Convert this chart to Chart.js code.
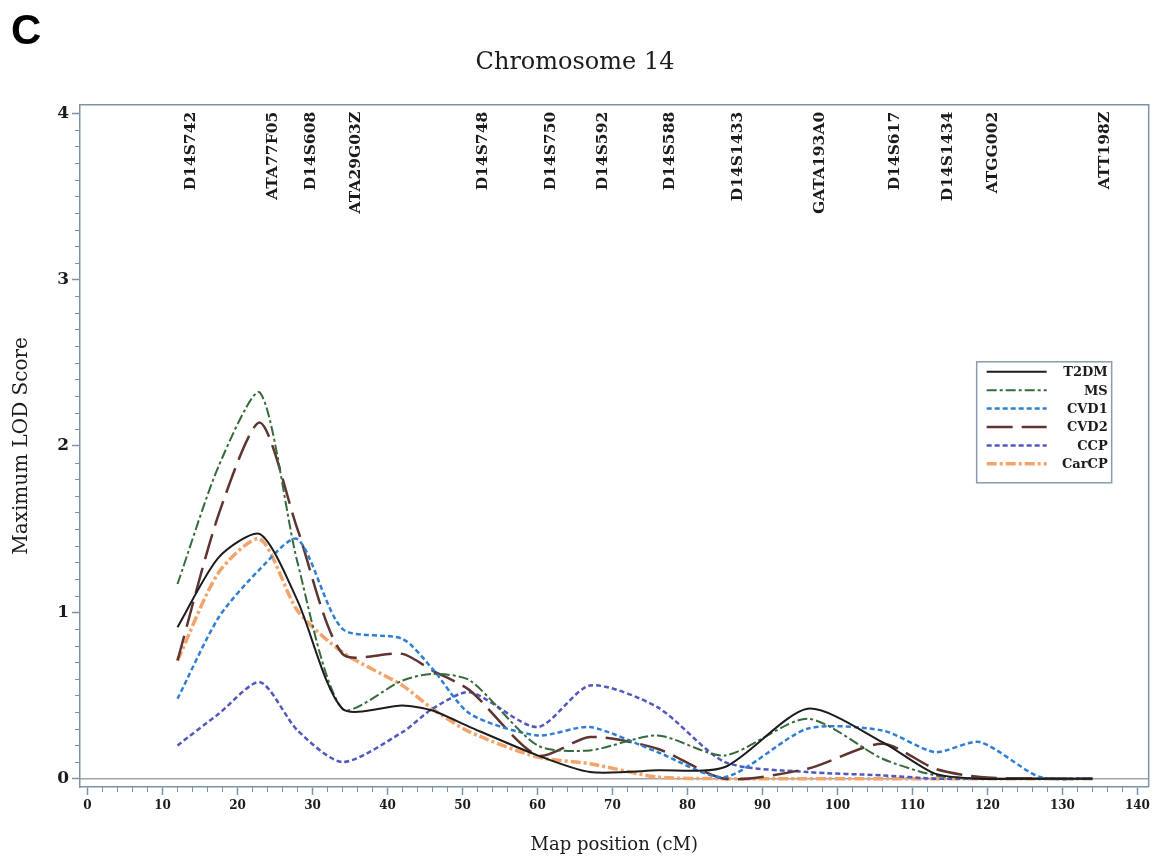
<!DOCTYPE html>
<html>
<head>
<meta charset="utf-8">
<title>Chromosome 14</title>
<script src="https://cdn.jsdelivr.net/npm/chart.js@4/dist/chart.umd.min.js"></script>
<style>
  html, body { margin: 0; padding: 0; background: #fff; }
</style>
</head>
<body>
<canvas id="lodChart" width="1154" height="859"></canvas>
<script>
// map positions (cM) where the LOD values were read
const positions = [12, 17.5, 23, 28, 34, 42, 46, 51, 60, 67, 76, 85, 96, 106, 113, 119, 127, 134];

const t2dm  = [0.91, 1.33, 1.47, 1.07, 0.42, 0.44, 0.41, 0.31, 0.14, 0.04, 0.05, 0.07, 0.42, 0.22, 0.03, 0.00, 0.00, 0.00];
const ms    = [1.17, 1.88, 2.32, 1.30, 0.42, 0.59, 0.63, 0.59, 0.20, 0.17, 0.26, 0.14, 0.36, 0.12, 0.02, 0.00, 0.00, 0.00];
const cvd1  = [0.48, 0.97, 1.26, 1.44, 0.90, 0.84, 0.66, 0.39, 0.26, 0.31, 0.16, 0.01, 0.30, 0.29, 0.16, 0.22, 0.01, 0.00];
const cvd2  = [0.71, 1.59, 2.14, 1.50, 0.75, 0.75, 0.65, 0.53, 0.14, 0.25, 0.18, 0.00, 0.06, 0.21, 0.06, 0.01, 0.00, 0.00];
const ccp   = [0.20, 0.39, 0.58, 0.29, 0.10, 0.28, 0.42, 0.52, 0.31, 0.56, 0.43, 0.10, 0.04, 0.02, 0.00, 0.00, 0.00, 0.00];
const carcp = [0.71, 1.24, 1.44, 1.01, 0.76, 0.56, 0.42, 0.28, 0.13, 0.09, 0.01, 0.00, 0.00, 0.00, 0.00, 0.00, 0.00, 0.00];

// genetic markers along the top of the plot
const markerPos   = [12, 23, 28, 34, 51, 60, 67, 76, 85, 96, 106, 113, 119, 134];
const markerNames = ['D14S742', 'ATA77F05', 'D14S608', 'ATA29G03Z', 'D14S748', 'D14S750', 'D14S592',
                     'D14S588', 'D14S1433', 'GATA193A0', 'D14S617', 'D14S1434', 'ATGG002', 'ATT198Z'];

const xTickValues = [0, 10, 20, 30, 40, 50, 60, 70, 80, 90, 100, 110, 120, 130, 140];
const yTickValues = [0, 1, 2, 3, 4];

const SERIF = "'DejaVu Serif', 'Liberation Serif', serif";
const axisColor = '#7b92aa';
const textColor = '#1b1b1b';

function toPoints(values) {
    return values.map((v, i) => ({x: positions[i], y: v}));
}

const seriesDefs = [
    {label: 'T2DM',  values: t2dm,  color: '#1c1c1c', width: 2,   dash: []},
    {label: 'MS',    values: ms,    color: '#356b3a', width: 2,   dash: [10, 3, 3, 3]},
    {label: 'CVD1',  values: cvd1,  color: '#2e7fd4', width: 2.5, dash: [5, 3]},
    {label: 'CVD2',  values: cvd2,  color: '#5e3530', width: 2.5, dash: [26, 9]},
    {label: 'CCP',   values: ccp,   color: '#5257c0', width: 2.5, dash: [5, 3]},
    {label: 'CarCP', values: carcp, color: '#f4a46a', width: 3.5, dash: [10, 3, 3, 3]},
];

const datasets = seriesDefs.map(s => ({
    label: s.label,
    data: toPoints(s.values),
    borderColor: s.color,
    backgroundColor: s.color,
    borderWidth: s.width,
    borderDash: s.dash,
    pointRadius: 0,
    fill: false,
    tension: 0.25,
}));

// frame, zero line, minor ticks, marker names, legend and panel letter
const overlay = {
    id: 'overlay',
    beforeDatasetsDraw(chart) {
        const {ctx, chartArea: a, scales: {x, y}} = chart;
        ctx.save();
        ctx.strokeStyle = axisColor;
        ctx.lineWidth = 1.5;
        ctx.beginPath();
        ctx.moveTo(a.left, a.top);
        ctx.lineTo(a.right, a.top);
        ctx.lineTo(a.right, a.bottom);
        ctx.stroke();

        const y0 = y.getPixelForValue(0);
        ctx.strokeStyle = '#a3a3a3';
        ctx.lineWidth = 1.5;
        ctx.beginPath();
        ctx.moveTo(a.left, y0);
        ctx.lineTo(a.right, y0);
        ctx.stroke();

        ctx.strokeStyle = axisColor;
        ctx.lineWidth = 1;
        ctx.beginPath();
        for (let v = 2; v < 140; v += 2) {
            if (v % 10 === 0) continue;
            const px = Math.round(x.getPixelForValue(v)) + 0.5;
            ctx.moveTo(px, a.bottom);
            ctx.lineTo(px, a.bottom + 5);
        }
        for (let k = 1; k < 40; k++) {
            if (k % 10 === 0) continue;
            const py = Math.round(y.getPixelForValue(k / 10)) + 0.5;
            ctx.moveTo(a.left, py);
            ctx.lineTo(a.left - 5, py);
        }
        ctx.stroke();
        ctx.restore();
    },
    afterDatasetsDraw(chart) {
        const {ctx, chartArea: a, scales: {x}} = chart;
        ctx.save();

        // marker names, rotated
        ctx.fillStyle = textColor;
        ctx.font = 'bold 15.5px ' + SERIF;
        ctx.textAlign = 'right';
        ctx.textBaseline = 'middle';
        markerNames.forEach((name, i) => {
            const px = x.getPixelForValue(markerPos[i]) + 13;
            ctx.save();
            ctx.translate(px, a.top + 7);
            ctx.rotate(-Math.PI / 2);
            ctx.fillText(name, 0, 0);
            ctx.restore();
        });

        // legend box
        const bx = a.right - 172, by = a.top + 257, bw = 135, bh = 121;
        ctx.fillStyle = '#fff';
        ctx.fillRect(bx, by, bw, bh);
        ctx.strokeStyle = '#8a9bb0';
        ctx.lineWidth = 1.5;
        ctx.strokeRect(bx, by, bw, bh);
        ctx.font = 'bold 13px ' + SERIF;
        ctx.textAlign = 'right';
        ctx.textBaseline = 'middle';
        seriesDefs.forEach((s, i) => {
            const ry = by + 10 + i * 18.4;
            ctx.strokeStyle = s.color;
            ctx.lineWidth = s.width;
            ctx.setLineDash(s.dash);
            ctx.beginPath();
            ctx.moveTo(bx + 10, ry);
            ctx.lineTo(bx + 70, ry);
            ctx.stroke();
            ctx.setLineDash([]);
            ctx.fillStyle = textColor;
            ctx.fillText(s.label, bx + bw - 4, ry + 1);
        });

        // panel letter
        ctx.fillStyle = '#000';
        ctx.font = "bold 42px 'Liberation Sans', Arial, sans-serif";
        ctx.textAlign = 'left';
        ctx.textBaseline = 'alphabetic';
        ctx.fillText('C', 11, 44);
        ctx.restore();
    }
};

Chart.defaults.font.family = SERIF;
Chart.defaults.color = textColor;

const ctx = document.getElementById('lodChart');
new Chart(ctx, {
    type: 'line',
    data: {datasets: datasets},
    options: {
        responsive: false,
        animation: false,
        layout: {padding: {top: 2, right: 4, left: 0, bottom: 0}},
        plugins: {
            legend: {display: false},
            tooltip: {enabled: false},
            title: {
                display: true,
                text: 'Chromosome 14',
                color: textColor,
                font: {size: 24, weight: 'normal', family: SERIF},
                padding: {top: 46, bottom: 28}
            }
        },
        scales: {
            x: {
                type: 'linear',
                min: -1,
                max: 141.5,
                afterBuildTicks: s => { s.ticks = xTickValues.map(v => ({value: v})); },
                afterFit: s => { s.height = 72; },
                grid: {drawOnChartArea: false, tickLength: 8, tickColor: axisColor, tickWidth: 1.5},
                border: {color: axisColor, width: 1.5},
                ticks: {font: {size: 12, weight: 'bold'}, color: textColor, padding: 4, maxRotation: 0, autoSkip: false},
                title: {display: true, text: 'Map position (cM)', color: textColor, font: {size: 18}, padding: {top: 0, bottom: 3}}
            },
            y: {
                type: 'linear',
                min: -0.05,
                max: 4.05,
                afterBuildTicks: s => { s.ticks = yTickValues.map(v => ({value: v})); },
                afterFit: s => { s.width = 80; },
                grid: {drawOnChartArea: false, tickLength: 8, tickColor: axisColor, tickWidth: 1.5},
                border: {color: axisColor, width: 1.5},
                ticks: {font: {size: 17, weight: 'bold'}, color: textColor, padding: 3},
                title: {display: true, text: 'Maximum LOD Score', color: textColor, font: {size: 20}, padding: {top: 10}}
            }
        }
    },
    plugins: [overlay]
});
</script>
</body>
</html>
